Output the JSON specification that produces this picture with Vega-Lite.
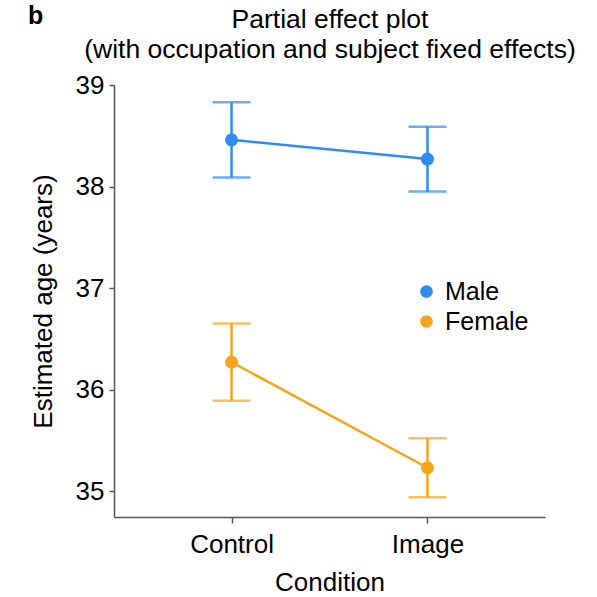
{
  "$schema": "https://vega.github.io/schema/vega-lite/v6.json",
  "autosize": {"type": "none"},
  "padding": {"left": 114, "top": 85, "right": 52, "bottom": 80},
  "width": 431,
  "height": 432,
  "background": "white",
  "title": {
    "text": "b",
    "anchor": "start",
    "frame": "group",
    "fontSize": 25,
    "fontWeight": "bold",
    "font": "Liberation Sans",
    "color": "black",
    "dx": -86,
    "dy": 27
  },
  "data": {
    "values": [
      {"Condition": "Control", "Gender": "Male", "mean": 38.46, "lo": 38.09, "hi": 38.83},
      {"Condition": "Image", "Gender": "Male", "mean": 38.27, "lo": 37.95, "hi": 38.59},
      {"Condition": "Control", "Gender": "Female", "mean": 36.27, "lo": 35.89, "hi": 36.65},
      {"Condition": "Image", "Gender": "Female", "mean": 35.23, "lo": 34.94, "hi": 35.52}
    ]
  },
  "encoding": {
    "color": {
      "field": "Gender",
      "type": "nominal",
      "scale": {"domain": ["Male", "Female"], "range": ["#2E8CF0", "#F5A41C"]},
      "legend": {
        "title": null,
        "orient": "none",
        "legendX": 300,
        "legendY": 194,
        "symbolType": "circle",
        "symbolSize": 160,
        "symbolOpacity": 1,
        "symbolStrokeWidth": 0,
        "labelFontSize": 25,
        "labelFont": "Liberation Sans",
        "labelColor": "black",
        "labelOffset": 6,
        "rowPadding": 4
      }
    }
  },
  "layer": [
    {
      "mark": {"type": "rule", "strokeWidth": 2.5},
      "encoding": {
        "x": {
          "field": "Condition",
          "type": "nominal",
          "sort": ["Control", "Image"],
          "scale": {"type": "point", "padding": 0.6},
          "axis": {
            "orient": "bottom",
            "title": "Condition",
            "labelAngle": 0,
            "labelFontSize": 26,
            "titleFontSize": 26,
            "titleFontWeight": "normal",
            "labelPadding": 8,
            "titlePadding": 12,
            "tickSize": 6
          }
        },
        "y": {
          "field": "lo",
          "type": "quantitative",
          "scale": {"domain": [34.745, 39], "nice": false, "zero": false},
          "axis": {
            "title": "Estimated age (years)",
            "values": [35, 36, 37, 38, 39],
            "format": "d",
            "labelFontSize": 26,
            "titleFontSize": 26,
            "titleFontWeight": "normal",
            "labelPadding": 5,
            "titlePadding": 19,
            "tickSize": 5,
            "grid": false
          }
        },
        "y2": {"field": "hi"}
      }
    },
    {
      "mark": {"type": "tick", "size": 38, "thickness": 2.5},
      "encoding": {
        "x": {"field": "Condition", "type": "nominal", "sort": ["Control", "Image"], "axis": null},
        "y": {"field": "lo", "type": "quantitative"}
      }
    },
    {
      "mark": {"type": "tick", "size": 38, "thickness": 2.5},
      "encoding": {
        "x": {"field": "Condition", "type": "nominal", "sort": ["Control", "Image"], "axis": null},
        "y": {"field": "hi", "type": "quantitative"}
      }
    },
    {
      "mark": {"type": "line", "strokeWidth": 2.5},
      "encoding": {
        "x": {
          "field": "Condition",
          "type": "nominal",
          "sort": ["Control", "Image"],
          "axis": {
            "orient": "top",
            "title": ["Partial effect plot", "(with occupation and subject fixed effects)"],
            "titleFontSize": 26.5,
            "titleFontWeight": "normal",
            "titleLineHeight": 30,
            "titlePadding": 22,
            "labels": false,
            "ticks": false,
            "domain": false,
            "grid": false
          }
        },
        "y": {"field": "mean", "type": "quantitative"}
      }
    },
    {
      "mark": {"type": "point", "filled": true, "opacity": 1, "size": 170},
      "encoding": {
        "x": {"field": "Condition", "type": "nominal", "sort": ["Control", "Image"], "axis": null},
        "y": {"field": "mean", "type": "quantitative"}
      }
    }
  ],
  "resolve": {"axis": {"x": "independent", "y": "shared"}},
  "config": {
    "font": "Liberation Sans",
    "view": {"stroke": null},
    "axis": {
      "domainColor": "#555555",
      "domainWidth": 1.5,
      "tickColor": "#555555",
      "tickWidth": 1.5,
      "labelColor": "black",
      "titleColor": "black",
      "labelFont": "Liberation Sans",
      "titleFont": "Liberation Sans"
    }
  }
}
